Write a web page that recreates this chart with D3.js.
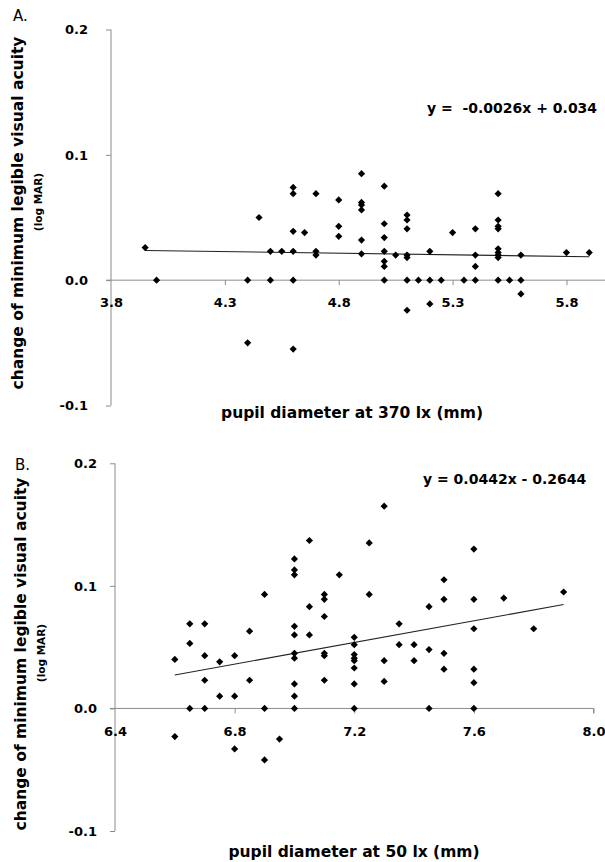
<!DOCTYPE html>
<html>
<head>
<meta charset="utf-8">
<script src="https://cdn.jsdelivr.net/npm/d3@7"></script>
<style>
  body { margin:0; background:#fff; }
  text { font-family:'DejaVu Sans', sans-serif; }
</style>
</head>
<body>
<svg id="chart" width="605" height="862"></svg>
<script>
// panel A : pupil diameter at 370 lx
var pupilA = [3.95,4.0,4.4,4.4,4.45,4.5,4.5,4.55,4.6,4.6,4.6,4.6,4.6,4.6,4.65,4.7,4.7,4.7,
  4.8,4.8,4.8,4.9,4.9,4.9,4.9,4.9,4.9,5.0,5.0,5.0,5.0,5.0,5.0,5.0,5.05,
  5.1,5.1,5.1,5.1,5.1,5.1,5.1,5.15,5.2,5.2,5.2,5.25,5.3,5.35,5.4,5.4,5.4,5.4,
  5.5,5.5,5.5,5.5,5.5,5.5,5.5,5.5,5.5,5.55,5.6,5.6,5.6,5.8,5.9];
var acuityA = [0.026,0,0,-0.050,0.050,0.023,0,0.023,0.074,0.069,0.039,0.023,0,-0.055,0.038,0.069,0.023,0.020,
  0.064,0.043,0.035,0.085,0.062,0.060,0.056,0.032,0.021,0.075,0.045,0.034,0.023,0.015,0.011,0,0.020,
  0.052,0.048,0.041,0.020,0.018,0,-0.024,0,0.023,0,-0.019,0,0.038,0,0.041,0.020,0.011,0,
  0.069,0.048,0.043,0.041,0.025,0.022,0.020,0.018,0,0,0.020,0,-0.011,0.022,0.022];
var trendA = [-0.0026, 0.034];
var ticksXA = [3.8,4.3,4.8,5.3,5.8];

// panel B : pupil diameter at 50 lx
var pupilB = [6.6,6.6,6.65,6.65,6.65,6.7,6.7,6.7,6.7,6.75,6.75,6.8,6.8,6.8,6.85,6.85,6.9,6.9,6.9,6.95,
  7.0,7.0,7.0,7.0,7.0,7.0,7.0,7.0,7.0,7.0,7.05,7.05,7.05,7.1,7.1,7.1,7.1,7.1,7.1,7.15,
  7.2,7.2,7.2,7.2,7.2,7.2,7.2,7.2,7.25,7.25,7.3,7.3,7.3,7.35,7.35,7.4,7.4,7.45,7.45,7.45,
  7.5,7.5,7.5,7.5,7.6,7.6,7.6,7.6,7.6,7.6,7.7,7.8,7.9];
var acuityB = [0.040,-0.023,0.069,0.053,0,0.069,0.043,0.023,0,0.038,0.010,0.043,0.010,-0.033,0.063,0.023,0.093,0,-0.042,-0.025,
  0.122,0.113,0.109,0.067,0.060,0.045,0.041,0.020,0.010,0,0.137,0.083,0.060,0.093,0.089,0.075,0.045,0.043,0.023,0.109,
  0.058,0.052,0.044,0.041,0.039,0.033,0.020,0,0.135,0.093,0.165,0.039,0.022,0.069,0.052,0.052,0.039,0.083,0.048,0,
  0.105,0.089,0.045,0.032,0.130,0.089,0.065,0.032,0.021,0,0.090,0.065,0.095];
var trendB = [0.0442, -0.2644];
var ticksXB = [6.4,6.8,7.2,7.6,8.0];

var ticksY = [-0.1,0.0,0.1,0.2];
var yTitle = 'change of minimum legible visual acuity';
var yUnit = '(log MAR)';

var svg = d3.select('#chart');
var axisColor = '#8c8c8c';
var fmt = d => d.toFixed(1);   // plain hyphen for negatives, like the original

function drawPanel(p){
    var g = svg.append('g');
    var x = d3.scaleLinear().domain(p.xDomain).range(p.xRange);
    var y = d3.scaleLinear().domain([-0.1,0.2]).range(p.yRange);

    // y axis
    var yAxis = d3.axisLeft(y).tickValues(ticksY).tickSize(5).tickFormat(fmt);
    var ya = g.append('g')
        .attr('transform','translate('+x(p.xDomain[0])+',0)')
        .call(yAxis);
    ya.select('.domain').attr('stroke',axisColor).attr('d','M0,'+y(0.2)+'V'+y(-0.1));
    ya.selectAll('.tick line').attr('stroke',axisColor);
    ya.selectAll('.tick text')
        .attr('x',-p.yLabelGap)
        .attr('fill','#000')
        .style('font-size','13px')
        .style('font-weight','bold');

    // x axis crossing at zero
    var xAxis = d3.axisBottom(x).tickValues(p.xTicks).tickSize(5).tickFormat(fmt);
    var xa = g.append('g')
        .attr('transform','translate(0,'+y(0)+')')
        .call(xAxis);
    xa.select('.domain').attr('stroke',axisColor)
        .attr('d','M'+(p.xRange[0]-5)+',0H'+p.xRange[1]+(p.endTick ? 'V5' : ''));
    xa.selectAll('.tick line').attr('stroke',axisColor)
        .attr('display',d => d == p.xDomain[0] ? 'none' : null);
    xa.selectAll('.tick text')
        .attr('y',18)
        .attr('fill','#000')
        .style('font-size','13px')
        .style('font-weight','bold');

    // trend line
    var x0 = d3.min(p.xs), x1 = d3.max(p.xs);
    g.append('line')
        .attr('x1',x(x0)).attr('y1',y(p.trend[0]*x0+p.trend[1]))
        .attr('x2',x(x1)).attr('y2',y(p.trend[0]*x1+p.trend[1]))
        .attr('stroke','#222')
        .attr('stroke-width',1.1);

    // points
    var diamond = d3.symbol().type(d3.symbolSquare).size(26);
    g.selectAll('.pt')
        .data(p.xs.map((d,i) => [d,p.ys[i]]))
        .join('path')
        .attr('class','pt')
        .attr('d',diamond)
        .attr('transform',d => 'translate('+x(d[0])+','+y(d[1])+') rotate(45)')
        .attr('fill','#000');

    // equation
    g.append('text')
        .attr('x',p.eqPos[0]).attr('y',p.eqPos[1])
        .attr('xml:space','preserve')
        .style('font-size','14px')
        .style('font-weight','bold')
        .text(p.eq);

    // titles
    g.append('text')
        .attr('x',p.xTitlePos[0]).attr('y',p.xTitlePos[1])
        .attr('text-anchor','middle')
        .style('font-size','15.5px')
        .style('font-weight','bold')
        .text(p.xTitle);
    g.append('text')
        .attr('transform','translate('+p.yTitlePos[0]+','+p.yTitlePos[1]+') rotate(-90)')
        .attr('text-anchor','middle')
        .style('font-size','15.5px')
        .style('font-weight','bold')
        .text(yTitle);
    g.append('text')
        .attr('transform','translate('+p.yUnitPos[0]+','+p.yUnitPos[1]+') rotate(-90)')
        .attr('text-anchor','middle')
        .style('font-size','10.5px')
        .style('font-weight','bold')
        .text(yUnit);
    g.append('text')
        .attr('x',p.labelPos[0]).attr('y',p.labelPos[1])
        .style('font-size','15px')
        .text(p.label);
}

drawPanel({
    xs: pupilA, ys: acuityA, trend: trendA, xTicks: ticksXA,
    xDomain: [3.8,6.0], xRange: [111,612], yRange: [405.5,29.5],
    yLabelGap: 23, endTick: false,
    eq: 'y =  -0.0026x + 0.034', eqPos: [427,113],
    xTitle: 'pupil diameter at 370 lx (mm)', xTitlePos: [352,418],
    yTitlePos: [23,213], yUnitPos: [42,202],
    label: 'A.', labelPos: [13,21]
});

drawPanel({
    xs: pupilB, ys: acuityB, trend: trendB, xTicks: ticksXB,
    xDomain: [6.4,8.0], xRange: [115,593.5], yRange: [831,463.3],
    yLabelGap: 18, endTick: true,
    eq: 'y = 0.0442x - 0.2644', eqPos: [423,484],
    xTitle: 'pupil diameter at 50 lx (mm)', xTitlePos: [354,857],
    yTitlePos: [26,654], yUnitPos: [45,653],
    label: 'B.', labelPos: [15,470]
});
</script>
</body>
</html>
